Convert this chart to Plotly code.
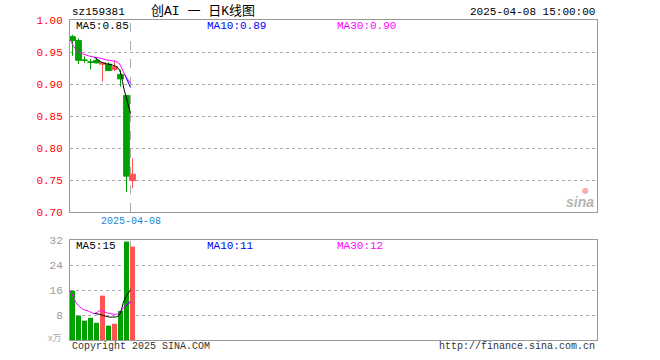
import plotly.graph_objects as go
import pandas as pd

# ---------------- data ----------------
symbol = "sz159381"
title_text = "创AI 一 日K线图"
stamp = "2025-04-08 15:00:00"
last_date = "2025-04-08"

opens  = [0.974, 0.968, 0.9375, 0.9345, 0.937, 0.931, 0.931, 0.923, 0.915, 0.882, 0.749]
highs  = [0.977, 0.971, 0.943, 0.939, 0.942, 0.933, 0.934, 0.937, 0.922, 0.882, 0.784]
lows   = [0.944, 0.931, 0.933, 0.923, 0.932, 0.904, 0.920, 0.920, 0.896, 0.731, 0.737]
closes = [0.968, 0.937, 0.937, 0.934, 0.933, 0.933, 0.921, 0.927, 0.908, 0.756, 0.759]
volumes = [15.8, 7.8, 6.2, 7.1, 5.5, 14.2, 4.6, 5.2, 9.3, 31.5, 29.9]  # 万

price_ticks = [0.70, 0.75, 0.80, 0.85, 0.90, 0.95, 1.00]
vol_ticks = [8, 16, 24, 32]

price_ma_labels = ["MA5:0.85", "MA10:0.89", "MA30:0.90"]
vol_ma_labels = ["MA5:15", "MA10:11", "MA30:12"]

# ---------------- derived ----------------
idx = list(range(len(closes)))
cs = pd.Series(closes)
vs = pd.Series(volumes)
ma5 = cs.rolling(5, min_periods=5).mean()
ma10 = cs.rolling(10, min_periods=10).mean()
ma30 = cs.rolling(30, min_periods=1).mean()
vma5 = vs.rolling(5, min_periods=5).mean()
vma10 = vs.rolling(10, min_periods=10).mean()
vma30 = vs.rolling(30, min_periods=1).mean()

MA_SHIFT = -1 / 3
ma_x = [i + MA_SHIFT for i in idx]

RED = "#ff5353"
GREEN = "#00a000"
MONO = "Liberation Mono, DejaVu Sans Mono, monospace"
FS = 10

vol_colors = [RED if c > o else GREEN for o, c in zip(opens, closes)]

fig = go.Figure()

fig.add_trace(go.Candlestick(
    x=idx, open=opens, high=highs, low=lows, close=closes,
    increasing=dict(line=dict(color=RED, width=1), fillcolor=RED),
    decreasing=dict(line=dict(color=GREEN, width=1), fillcolor=GREEN),
    whiskerwidth=0, xaxis="x", yaxis="y", hoverinfo="skip", showlegend=False,
))

for series, color in [(ma10, "#0000ff"), (ma30, "#ff00ff"), (ma5, "#000000")]:
    fig.add_trace(go.Scatter(
        x=ma_x, y=series, mode="lines", line=dict(color=color, width=1, shape="spline"),
        xaxis="x", yaxis="y", showlegend=False, hoverinfo="skip",
    ))

fig.add_trace(go.Bar(
    x=idx, y=volumes, marker=dict(color=vol_colors, line=dict(width=0)),
    width=0.84, xaxis="x2", yaxis="y2", showlegend=False, hoverinfo="skip",
))
for series, color in [(vma10, "#0000ff"), (vma30, "#ff00ff"), (vma5, "#000000")]:
    fig.add_trace(go.Scatter(
        x=ma_x, y=series, mode="lines", line=dict(color=color, width=1, shape="spline"),
        xaxis="x2", yaxis="y2", showlegend=False, hoverinfo="skip",
    ))

x_range = [-0.417, -0.417 + 527 / 6]
cross_x = idx[-1] + MA_SHIFT

fig.update_layout(
    width=660, height=360,
    margin=dict(l=70, r=63, t=20, b=20),
    paper_bgcolor="white", plot_bgcolor="white",
    boxgap=0.05, boxgroupgap=0,
    showlegend=False,
    xaxis=dict(domain=[0, 1], range=x_range, showticklabels=False, showgrid=False,
               zeroline=False, showline=True, mirror=True, linecolor="#999", linewidth=1,
               rangeslider=dict(visible=False), fixedrange=True),
    yaxis=dict(domain=[0.4, 1.0], range=[price_ticks[0], price_ticks[-1]],
               tickvals=price_ticks, ticktext=[f"{v:.2f}" for v in price_ticks],
               tickfont=dict(family=MONO, size=FS + 1, color="#ff0000"),
               showgrid=True, gridcolor="#aaaaaa", griddash="dot", gridwidth=1,
               zeroline=False, showline=True, mirror=True, linecolor="#999", linewidth=1,
               ticks="", ticklabelstandoff=4, fixedrange=True),
    xaxis2=dict(domain=[0, 1], range=x_range, showticklabels=False, showgrid=False,
                zeroline=False, showline=True, mirror=True, linecolor="#999", linewidth=1,
                anchor="y2", fixedrange=True),
    yaxis2=dict(domain=[0, 0.3125], range=[0, vol_ticks[-1]], tickvals=vol_ticks,
                ticktext=[str(v) for v in vol_ticks],
                tickfont=dict(family=MONO, size=FS + 1, color="#999999"),
                showgrid=True, gridcolor="#aaaaaa", griddash="dot", gridwidth=1,
                zeroline=False, showline=True, mirror=True, linecolor="#999", linewidth=1,
                ticks="", ticklabelstandoff=4, anchor="x2", fixedrange=True),
)

# crosshair dashed line at the last day
for yref in ["y domain", "y2 domain"]:
    fig.add_shape(type="line", xref="x" if yref == "y domain" else "x2", yref=yref,
                  x0=cross_x, x1=cross_x, y0=0, y1=1, layer="below",
                  line=dict(color="#aaaaaa", width=1, dash="dash"))

ann = []
def txt(text, x, y, color="#000", size=FS, xanchor="left", family=MONO, xref="paper", yref="paper"):
    ann.append(dict(text=text, x=x, y=y, xref=xref, yref=yref, xanchor=xanchor, yanchor="middle",
                    showarrow=False, font=dict(family=family, size=size, color=color)))

txt(symbol, 0, 1.026, size=FS + 1)
txt(title_text, 0.150, 1.026, size=13, family="Liberation Mono, Noto Sans CJK SC")
txt(stamp, 1.0, 1.026, xanchor="right", size=FS + 1)

ma_colors = ["#000000", "#0000ff", "#ff00ff"]
ma_xs = [0.007, 0.256, 0.503]
for lab, col, xp in zip(price_ma_labels, ma_colors, ma_xs):
    txt(lab, xp, 0.980, color=col, size=FS + 1)
for lab, col, xp in zip(vol_ma_labels, ma_colors, ma_xs):
    txt(lab, xp, 0.294, color=col, size=FS + 1)

ann.append(dict(text=last_date, x=cross_x, xref="x", y=0.4, yref="paper", yshift=-9,
                xanchor="center", yanchor="middle", showarrow=False,
                font=dict(family=MONO, size=FS, color="#1a86d6")))

txt("x万", -0.014, 0.007, color="#aaaaaa", size=9, xanchor="right",
    family="Noto Sans CJK SC")
txt("Copyright 2025 SINA.COM", 0, -0.019, color="#333333")
txt("http://finance.sina.com.cn", 1.0, -0.019, color="#333333", xanchor="right")

# sina watermark
txt("<b><i>sina</i></b>", 0.998, 0.432, color="#b5b5b5", size=14, xanchor="right",
    family="Arial, Liberation Sans")
txt("●", 0.978, 0.468, color="#f7b0b0", size=8, xanchor="center", family="DejaVu Sans")

fig.update_layout(annotations=ann)
fig.write_html("out.html", config={"displayModeBar": False, "staticPlot": True},
               post_script="document.body.style.margin='0';document.body.style.padding='0';")
